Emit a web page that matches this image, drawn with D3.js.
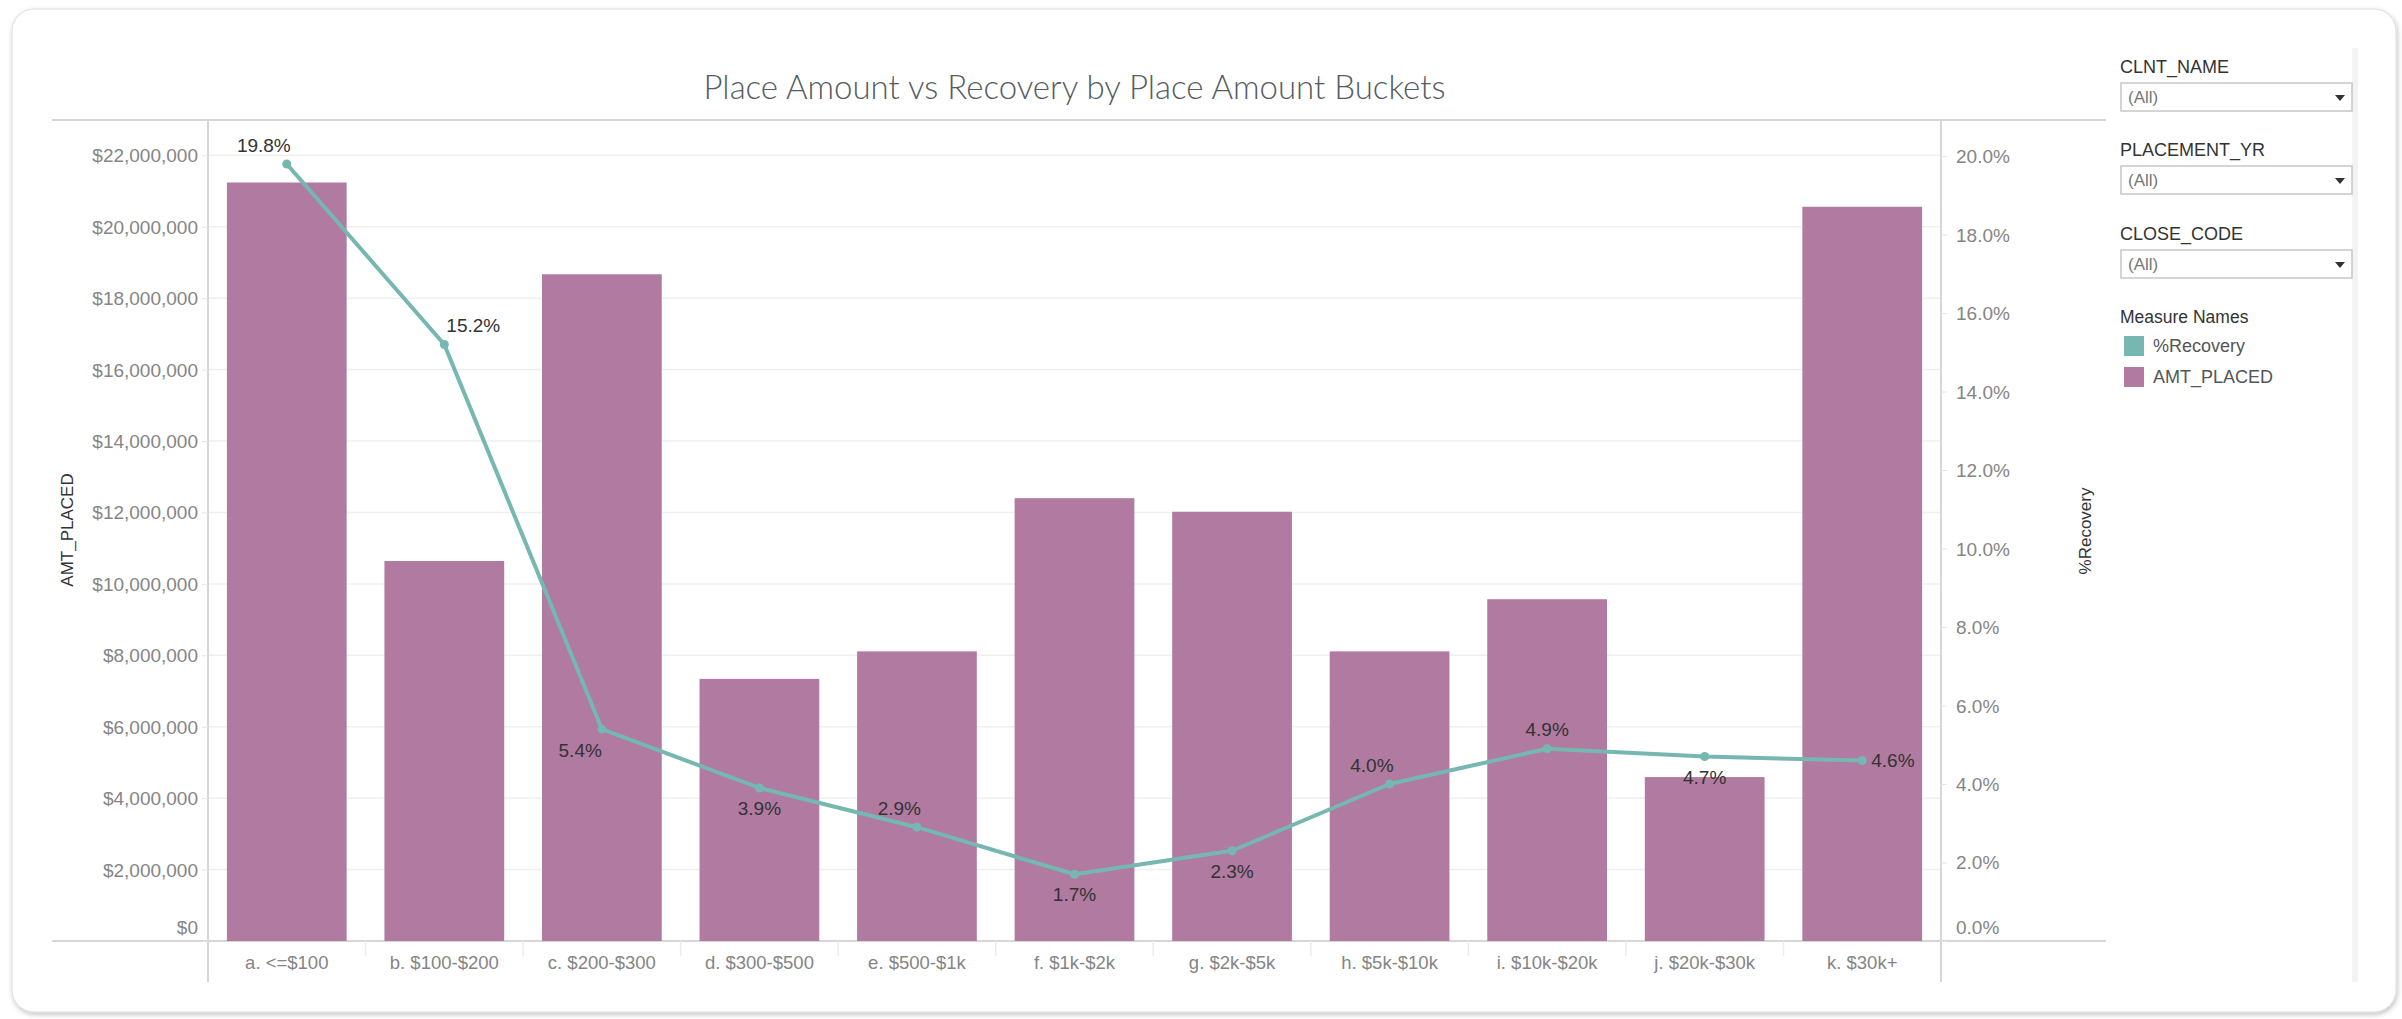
<!DOCTYPE html>
<html>
<head>
<meta charset="utf-8">
<script src="https://cdn.jsdelivr.net/npm/d3@7"></script>
<style>
    body { margin: 0; background: #fff; }
    svg text { font-family: "Liberation Sans", Arial, sans-serif; }
</style>
</head>
<body>
<div class="chart"></div>
<script>
// data
var categories = ["a. <=$100", "b. $100-$200", "c. $200-$300", "d. $300-$500", "e. $500-$1k",
    "f. $1k-$2k", "g. $2k-$5k", "h. $5k-$10k", "i. $10k-$20k", "j. $20k-$30k", "k. $30k+"];
var amtPlaced = [21240000, 10640000, 18670000, 7340000, 8110000, 12400000, 12020000, 8110000, 9570000, 4590000, 20560000];
var recovery = [0.198, 0.152, 0.054, 0.039, 0.029, 0.017, 0.023, 0.040, 0.049, 0.047, 0.046];
// where tableau put each % label relative to its point
var labelPos = ["nw", "ne", "sw", "s", "nw", "s", "s", "nw", "n", "s", "e"];
var leftTicks = d3.range(0, 22000001, 2000000);
var rightTicks = d3.range(0, 11).map(d => d * 0.02);
var filterNames = ["CLNT_NAME", "PLACEMENT_YR", "CLOSE_CODE"];
var legendNames = ["%Recovery", "AMT_PLACED"];

var svgWidth = 2402;
var svgHeight = 1019;
var plot = { left: 208, right: 1941, top: 120, bottom: 941 };
var barColor = "#B07AA1";
var lineColor = "#76B7B2";

var svg = d3.select(".chart")
    .append("svg")
    .attr("width", svgWidth)
    .attr("height", svgHeight);

// card with a soft shadow
var defs = svg.append("defs");
defs.append("filter").attr("id", "shadow")
    .attr("x", "-2%").attr("y", "-2%").attr("width", "104%").attr("height", "104%")
    .append("feDropShadow")
    .attr("dx", 1).attr("dy", 2).attr("stdDeviation", 2.5)
    .attr("flood-color", "#000").attr("flood-opacity", 0.25);

svg.append("rect")
    .attr("x", 12).attr("y", 9)
    .attr("width", 2384).attr("height", 1003)
    .attr("rx", 22)
    .attr("fill", "#fff")
    .attr("stroke", "#dcdcdc")
    .attr("filter", "url(#shadow)");

// scales
var x = d3.scaleBand()
    .domain(categories)
    .range([plot.left, plot.right])
    .paddingInner(0.24)
    .paddingOuter(0.12);

var yLeft = d3.scaleLinear()
    .domain([0, 22990000])
    .range([plot.bottom, plot.top]);

var yRight = d3.scaleLinear()
    .domain([0, 0.2092])
    .range([plot.bottom, plot.top]);

// title
svg.append("text")
    .attr("x", (plot.left + plot.right) / 2)
    .attr("y", 99)
    .attr("text-anchor", "middle")
    .style("font-family", "Lato, 'Open Sans', sans-serif")
    .style("font-weight", 300)
    .style("font-size", "33px")
    .attr("fill", "#555b61")
    .text("Place Amount vs Recovery by Place Amount Buckets");

// gridlines
svg.append("g").selectAll("line")
    .data(leftTicks.slice(1))
    .enter()
    .append("line")
    .attr("x1", plot.left).attr("x2", plot.right)
    .attr("y1", d => yLeft(d)).attr("y2", d => yLeft(d))
    .attr("stroke", "#efefef")
    .attr("stroke-width", 1.5);

// frame lines
var frame = svg.append("g").attr("stroke", "#d6d6d6").attr("stroke-width", 2);
frame.append("line").attr("x1", 52).attr("x2", 2106).attr("y1", plot.top).attr("y2", plot.top);
frame.append("line").attr("x1", 52).attr("x2", 2106).attr("y1", plot.bottom).attr("y2", plot.bottom);
frame.append("line").attr("x1", plot.left).attr("x2", plot.left).attr("y1", plot.top).attr("y2", 982);
frame.append("line").attr("x1", plot.right).attr("x2", plot.right).attr("y1", plot.top).attr("y2", 982);

// band separators under the baseline
svg.append("g").selectAll("line")
    .data(categories.slice(1))
    .enter()
    .append("line")
    .attr("x1", d => x(d) - x.step() * x.paddingInner() / 2)
    .attr("x2", d => x(d) - x.step() * x.paddingInner() / 2)
    .attr("y1", plot.bottom)
    .attr("y2", plot.bottom + 15)
    .attr("stroke", "#ececec")
    .attr("stroke-width", 1.5);

// left axis
var leftAxis = d3.axisLeft(yLeft)
    .tickValues(leftTicks)
    .tickSize(6)
    .tickPadding(4)
    .tickFormat(d => "$" + d3.format(",")(d));
var gLeft = svg.append("g")
    .attr("transform", `translate(${plot.left}, 0)`)
    .call(leftAxis);
gLeft.select(".domain").remove();
gLeft.selectAll(".tick line").attr("stroke", "#e4e4e4");
gLeft.selectAll(".tick text")
    .style("font-size", "19px")
    .attr("fill", "#858585")
    .attr("dy", d => d === 0 ? "-0.4em" : "0.34em");

// right axis
var rightAxis = d3.axisRight(yRight)
    .tickValues(rightTicks)
    .tickSize(6)
    .tickPadding(9)
    .tickFormat(d3.format(".1%"));
var gRight = svg.append("g")
    .attr("transform", `translate(${plot.right}, 0)`)
    .call(rightAxis);
gRight.select(".domain").remove();
gRight.selectAll(".tick line").attr("stroke", "#e4e4e4");
gRight.selectAll(".tick text")
    .style("font-size", "19px")
    .attr("fill", "#858585")
    .attr("dy", d => d === 0 ? "-0.4em" : "0.34em");

// x axis labels
svg.append("g").selectAll("text")
    .data(categories)
    .enter()
    .append("text")
    .attr("x", d => x(d) + x.bandwidth() / 2)
    .attr("y", 969)
    .attr("text-anchor", "middle")
    .style("font-size", "18.5px")
    .attr("fill", "#858585")
    .text(d => d);

// axis titles
svg.append("text")
    .attr("transform", "translate(73, 530) rotate(-90)")
    .attr("text-anchor", "middle")
    .style("font-size", "17px")
    .attr("fill", "#333")
    .text("AMT_PLACED");

svg.append("text")
    .attr("transform", "translate(2091, 531) rotate(-90)")
    .attr("text-anchor", "middle")
    .style("font-size", "17px")
    .attr("fill", "#333")
    .text("%Recovery");

// bars
svg.append("g").selectAll("rect")
    .data(categories)
    .enter()
    .append("rect")
    .attr("x", d => x(d))
    .attr("width", x.bandwidth())
    .attr("y", (d, i) => yLeft(amtPlaced[i]))
    .attr("height", (d, i) => yLeft(0) - yLeft(amtPlaced[i]))
    .attr("fill", barColor);

// recovery line
var line = d3.line()
    .x((d, i) => x(categories[i]) + x.bandwidth() / 2)
    .y(d => yRight(d));

svg.append("path")
    .datum(recovery)
    .attr("fill", "none")
    .attr("stroke", lineColor)
    .attr("stroke-width", 4)
    .attr("stroke-linejoin", "round")
    .attr("d", line);

svg.append("g").selectAll("circle")
    .data(recovery)
    .enter()
    .append("circle")
    .attr("cx", (d, i) => x(categories[i]) + x.bandwidth() / 2)
    .attr("cy", d => yRight(d))
    .attr("r", 4.5)
    .attr("fill", lineColor);

// point labels
var offsets = {
    nw: { dx: 4, dy: -12, anchor: "end" },
    ne: { dx: 2, dy: -12, anchor: "start" },
    n: { dx: 0, dy: -13, anchor: "middle" },
    s: { dx: 0, dy: 27, anchor: "middle" },
    sw: { dx: 0, dy: 28, anchor: "end" },
    e: { dx: 9, dy: 7, anchor: "start" }
};

svg.append("g").selectAll("text")
    .data(recovery)
    .enter()
    .append("text")
    .attr("x", (d, i) => x(categories[i]) + x.bandwidth() / 2 + offsets[labelPos[i]].dx)
    .attr("y", (d, i) => yRight(d) + offsets[labelPos[i]].dy)
    .attr("text-anchor", (d, i) => offsets[labelPos[i]].anchor)
    .style("font-size", "19px")
    .attr("fill", "#333")
    .text(d => d3.format(".1%")(d));

// filter panel on the right
svg.append("rect")
    .attr("x", 2352).attr("y", 48)
    .attr("width", 6).attr("height", 934)
    .attr("fill", "#f3f3f3");

var filterTop = [67, 150, 234];
filterNames.forEach(function (name, i) {
    var g = svg.append("g").attr("transform", `translate(2120, ${filterTop[i]})`);
    g.append("text")
        .attr("y", 6)
        .style("font-size", "18px")
        .attr("fill", "#333")
        .text(name);
    g.append("rect")
        .attr("x", 1).attr("y", 16)
        .attr("width", 231).attr("height", 28)
        .attr("fill", "#fff")
        .attr("stroke", "#c6c6c6")
        .attr("stroke-width", 1.5);
    g.append("text")
        .attr("x", 8).attr("y", 36)
        .style("font-size", "17px")
        .attr("fill", "#777")
        .text("(All)");
    g.append("path")
        .attr("d", "M215,28 L225,28 L220,34 Z")
        .attr("fill", "#333");
});

svg.append("text")
    .attr("x", 2120).attr("y", 323)
    .style("font-size", "17.5px")
    .attr("fill", "#333")
    .text("Measure Names");

var legend = svg.append("g").selectAll("g")
    .data(legendNames)
    .enter()
    .append("g")
    .attr("transform", (d, i) => `translate(2124, ${336 + i * 31})`);

legend.append("rect")
    .attr("width", 20).attr("height", 20)
    .attr("fill", (d, i) => i === 0 ? lineColor : barColor);

legend.append("text")
    .attr("x", 29).attr("y", 16)
    .style("font-size", "18px")
    .attr("fill", "#555")
    .text(d => d);
</script>
</body>
</html>
